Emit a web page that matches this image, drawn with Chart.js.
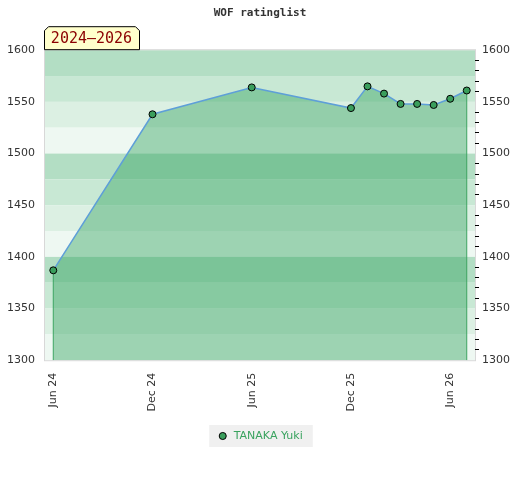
<!DOCTYPE html>
<html>
<head>
<meta charset="utf-8">
<title>WOF ratinglist</title>
<script src="https://cdn.jsdelivr.net/npm/chart.js@4.4.1/dist/chart.umd.min.js"></script>
<style>
  html, body { margin: 0; padding: 0; background: #fff; }
  #wrap { width: 520px; height: 480px; }
</style>
</head>
<body>
<div id="wrap"><canvas id="rating" width="520" height="480"></canvas></div>
<script>
// rating history (one point per published list)
var dates   = ['2024-06', '2024-12', '2025-06', '2025-12', '2026-01', '2026-02', '2026-03', '2026-04', '2026-05', '2026-06', '2026-07'];
var ratings = [1387, 1538, 1564, 1544, 1565, 1558, 1548, 1548, 1547, 1553, 1561];
var playerName = 'TANAKA Yuki';

// x axis ticks
var tickDates  = ['2024-06', '2024-12', '2025-06', '2025-12', '2026-06'];
var tickLabels = ['Jun 24', 'Dec 24', 'Jun 25', 'Dec 25', 'Jun 26'];

var yMin = 1300, yMax = 1600;
var periodLabel = '2024\u20132026';

// colours of the 25 point background bands, from the top of each hundred
var bandColors = ['#b3dec4', '#c8e8d4', '#dcf0e3', '#eef8f2'];

// months since jan 2024
function monthIndex(d) {
  var p = d.split('-');
  return (parseInt(p[0], 10) - 2024) * 12 + parseInt(p[1], 10) - 1;
}

var xs = dates.map(monthIndex);
var tickValues = tickDates.map(monthIndex);
var points = xs.map(function(x, i) { return { x: x, y: ratings[i] }; });
var last = ratings.length - 1;

Chart.defaults.font.family = 'DejaVu Sans';
Chart.defaults.font.size = 11;
Chart.defaults.color = '#333';

var backgroundPlugin = {
  id: 'bands',
  beforeDraw: function(chart) {
    var ctx = chart.ctx, area = chart.chartArea, y = chart.scales.y;
    ctx.save();
    // legend background
    var hb = chart.legend && chart.legend.legendHitBoxes && chart.legend.legendHitBoxes[0];
    if (hb) {
      ctx.fillStyle = '#f0f0f0';
      ctx.fillRect(hb.left - 8, hb.top - 5.5, hb.width + 18, hb.height + 11);
    }
    // horizontal bands
    for (var v = yMax; v > yMin; v -= 25) {
      var top = y.getPixelForValue(v);
      var bottom = y.getPixelForValue(v - 25);
      ctx.fillStyle = bandColors[((yMax - v) / 25) % 4];
      ctx.fillRect(area.left, top, area.right - area.left, bottom - top);
    }
    ctx.strokeStyle = '#d8d8d8';
    ctx.lineWidth = 1;
    ctx.strokeRect(area.left - 0.5, area.top - 0.5, area.right - area.left + 1, area.bottom - area.top + 1);
    ctx.restore();
  },
  afterDraw: function(chart) {
    // period tag above the plot
    var ctx = chart.ctx, area = chart.chartArea;
    var l = area.left - 0.5, r = area.left + 94.5, b = area.top - 0.5, t = area.top - 23.5, c = 4;
    ctx.save();
    ctx.beginPath();
    ctx.moveTo(l, b);
    ctx.lineTo(l, t + c);
    ctx.lineTo(l + c, t);
    ctx.lineTo(r - c, t);
    ctx.lineTo(r, t + c);
    ctx.lineTo(r, b);
    ctx.closePath();
    ctx.fillStyle = '#ffffcc';
    ctx.fill();
    ctx.strokeStyle = '#000';
    ctx.lineWidth = 1;
    ctx.stroke();
    ctx.fillStyle = '#8b0000';
    ctx.font = '15px "DejaVu Sans Mono"';
    ctx.textAlign = 'center';
    ctx.textBaseline = 'middle';
    ctx.fillText(periodLabel, (l + r) / 2 - 0.5, (t + b) / 2 + 1);
    ctx.restore();
  }
};

var ctx = document.getElementById('rating').getContext('2d');
var ratingChart = new Chart(ctx, {
  type: 'line',
  data: {
    datasets: [{
      label: playerName,
      data: points,
      borderColor: '#5e9fd8',
      borderWidth: 1.5,
      backgroundColor: 'rgba(46, 160, 90, 0.42)',
      fill: 'start',
      tension: 0,
      pointRadius: 3.5,
      pointHoverRadius: 3.5,
      pointBackgroundColor: '#3a9e5c',
      pointBorderColor: '#000',
      pointBorderWidth: 1
    }, {
      label: 'start',
      data: [{ x: xs[0], y: yMin }, { x: xs[0], y: ratings[0] }],
      borderColor: '#3aa35f',
      borderWidth: 1,
      pointRadius: 0,
      fill: false
    }, {
      label: 'end',
      data: [{ x: xs[last], y: yMin }, { x: xs[last], y: ratings[last] }],
      borderColor: '#3aa35f',
      borderWidth: 1,
      pointRadius: 0,
      fill: false
    }]
  },
  options: {
    responsive: false,
    animation: false,
    layout: { padding: { left: 7, right: 7, top: 0, bottom: 28.5 } },
    scales: {
      x: {
        type: 'linear',
        min: xs[0] - 0.5,
        max: xs[last] + 0.5,
        afterBuildTicks: function(scale) {
          scale.ticks = tickValues.map(function(v) { return { value: v }; });
        },
        afterFit: function(scale) {
          // rotated labels should not push the plot inwards
          scale.paddingLeft = 0;
          scale.paddingRight = 0;
        },
        ticks: {
          autoSkip: false,
          minRotation: 90,
          maxRotation: 90,
          padding: 12.5,
          callback: function(v) { return tickLabels[tickValues.indexOf(v)]; }
        },
        grid: { display: false, drawTicks: false },
        border: { display: false }
      },
      y: {
        min: yMin,
        max: yMax,
        afterFit: function(scale) { scale.width = 38; },
        ticks: {
          stepSize: 50,
          padding: 10,
          callback: function(v) { return String(v); }
        },
        grid: { display: false, drawTicks: false },
        border: { display: false }
      },
      y2: {
        position: 'right',
        min: yMin,
        max: yMax,
        ticks: {
          stepSize: 10,
          autoSkip: false,
          padding: 3,
          callback: function(v) { return v % 50 === 0 ? String(v) : ''; }
        },
        grid: {
          drawOnChartArea: false,
          drawTicks: true,
          tickLength: 4,
          color: function(c) { return c.tick && c.tick.value % 50 !== 0 ? '#000' : 'rgba(0,0,0,0)'; }
        },
        border: { display: false }
      }
    },
    plugins: {
      filler: { drawTime: 'beforeDatasetsDraw' },
      title: {
        display: true,
        text: 'WOF ratinglist',
        color: '#333',
        font: { family: 'DejaVu Sans Mono', size: 11, weight: 'bold' },
        padding: { top: 7, bottom: 30 }
      },
      legend: {
        position: 'bottom',
        labels: {
          usePointStyle: true,
          boxHeight: 5,
          boxWidth: 11,
          padding: 6.5,
          color: '#3aa35f',
          filter: function(item) { return item.datasetIndex === 0; }
        }
      },
      tooltip: { enabled: false }
    }
  },
  plugins: [backgroundPlugin]
});
</script>
</body>
</html>
